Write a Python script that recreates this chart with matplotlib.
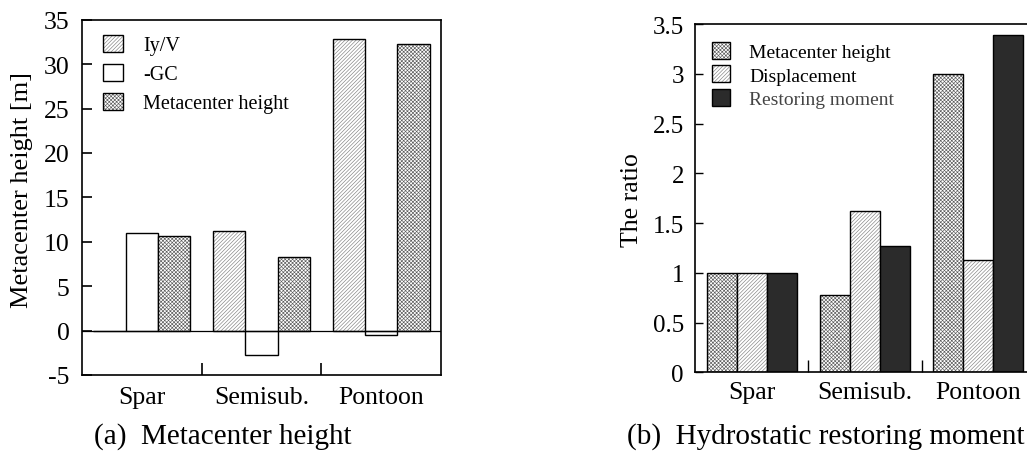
import matplotlib
matplotlib.use("Agg")
import matplotlib.pyplot as plt
import numpy as np

plt.rcParams['font.family'] = ['Liberation Serif', 'DejaVu Serif']
plt.rcParams['hatch.linewidth'] = 0.45

# ---------------- data ----------------
categories = ["Spar", "Semisub.", "Pontoon"]

# (a) Metacenter height [m]
iy_v = [0.0, 11.2, 32.8]
minus_gc = [11.0, -2.8, -0.5]
metacenter = [10.7, 8.3, 32.3]
left_labels = ["Iy/V", "-GC", "Metacenter height"]
left_yticks = [-5, 0, 5, 10, 15, 20, 25, 30, 35]

# (b) Ratio
ratio_mh = [1.0, 0.78, 3.0]
ratio_disp = [1.0, 1.62, 1.13]
ratio_rest = [1.0, 1.27, 3.39]
right_labels = ["Metacenter height", "Displacement", "Restoring moment"]
right_yticks = [0, 0.5, 1, 1.5, 2, 2.5, 3, 3.5]
right_yticklabels = ["0", "0.5", "1", "1.5", "2", "2.5", "3", "3.5"]

W, H = 1027, 452
fig = plt.figure(figsize=(W / 100, H / 100), dpi=100)


def fig_box(x0, y0, x1, y1):
    return [x0 / W, 1 - y1 / H, (x1 - x0) / W, (y1 - y0) / H]


def draw_bar(ax, x, h, width, style):
    """style: 'diag', 'cross', 'white', 'dark'. Returns legend handle tuple."""
    if style == 'diag':
        b1 = ax.bar(x, h, width, color='white', edgecolor='#808080', hatch='/' * 9, linewidth=0)
    elif style == 'cross':
        b1 = ax.bar(x, h, width, color='white', edgecolor='#5c5c5c', hatch='x' * 9, linewidth=0)
    elif style == 'white':
        b1 = ax.bar(x, h, width, color='white', linewidth=0)
    else:
        b1 = ax.bar(x, h, width, color='#2b2b2b', linewidth=0)
    b2 = ax.bar(x, h, width, fill=False, edgecolor='black', linewidth=1.0)
    return (b1[0], b2[0])


x = np.arange(len(categories))

# ---------------- (a) ----------------
ax1 = fig.add_axes(fig_box(82, 20.7, 441, 376))
bw = 0.27
hA = draw_bar(ax1, x - bw, iy_v, bw, 'diag')
hB = draw_bar(ax1, x, minus_gc, bw, 'white')
hC = draw_bar(ax1, x + bw, metacenter, bw, 'cross')
ax1.axhline(0, color='black', linewidth=0.9, zorder=3)
ax1.set_xlim(-0.5, 2.5)
ax1.set_ylim(-5, 35)
ax1.set_yticks(left_yticks)
ax1.set_yticklabels([str(v) for v in left_yticks])
ax1.set_xticks(x)
ax1.set_xticklabels(categories)
ax1.tick_params(axis='x', length=0, labelsize=18.5, pad=8)
ax1.tick_params(axis='y', direction='in', length=7, width=1.2, labelsize=18.5, pad=9)
ax1.set_xticks([0.5, 1.5], minor=True)
ax1.tick_params(axis='x', which='minor', direction='in', length=9, width=1.2)
for s in ax1.spines.values():
    s.set_linewidth(1.2)
leg1 = ax1.legend([hA, hB, hC], left_labels, frameon=False, fontsize=14.5,
                  loc='upper left', bbox_to_anchor=(103 / W, 1 - 36 / H),
                  bbox_transform=fig.transFigure, borderpad=0, borderaxespad=0,
                  handlelength=1.0, handleheight=0.92, labelspacing=0.42,
                  handletextpad=1.0)
fig.text(22 / W, 1 - 190 / H, "Metacenter height [m]", rotation=90,
         ha='center', va='center', fontsize=19)
fig.text(223 / W, 1 - 437 / H, "(a)  Metacenter height", ha='center', va='center', fontsize=21)

# ---------------- (b) ----------------
ax2 = fig.add_axes(fig_box(695, 25, 1035, 373.3))
bw2 = 0.265
gA = draw_bar(ax2, x - bw2, ratio_mh, bw2, 'cross')
gB = draw_bar(ax2, x, ratio_disp, bw2, 'diag')
gC = draw_bar(ax2, x + bw2, ratio_rest, bw2, 'dark')
ax2.set_xlim(-0.5, 2.5)
ax2.set_ylim(0, 3.5)
ax2.set_yticks(right_yticks)
ax2.set_yticklabels(right_yticklabels)
ax2.set_xticks(x)
ax2.set_xticklabels(categories)
ax2.tick_params(axis='x', length=0, labelsize=18.5, pad=6)
ax2.tick_params(axis='y', direction='in', length=6, width=1.0, labelsize=18, pad=8)
ax2.set_xticks([0.5, 1.5], minor=True)
ax2.tick_params(axis='x', which='minor', direction='in', length=9, width=1.0)
for s in ax2.spines.values():
    s.set_linewidth(1.2)
leg2 = ax2.legend([gA, gB, gC], right_labels, frameon=False, fontsize=14,
                  loc='upper left', bbox_to_anchor=(711.7 / W, 1 - 43 / H),
                  bbox_transform=fig.transFigure, borderpad=0, borderaxespad=0,
                  handlelength=0.93, handleheight=0.97, labelspacing=0.22,
                  handletextpad=1.0)
leg2.get_texts()[2].set_color('#444444')
fig.text(632 / W, 1 - 200 / H, "The ratio", rotation=90,
         ha='center', va='center', fontsize=18.5)
fig.text(826 / W, 1 - 437 / H, "(b)  Hydrostatic restoring moment", ha='center', va='center', fontsize=21)

fig.savefig("out.png", dpi=100)
